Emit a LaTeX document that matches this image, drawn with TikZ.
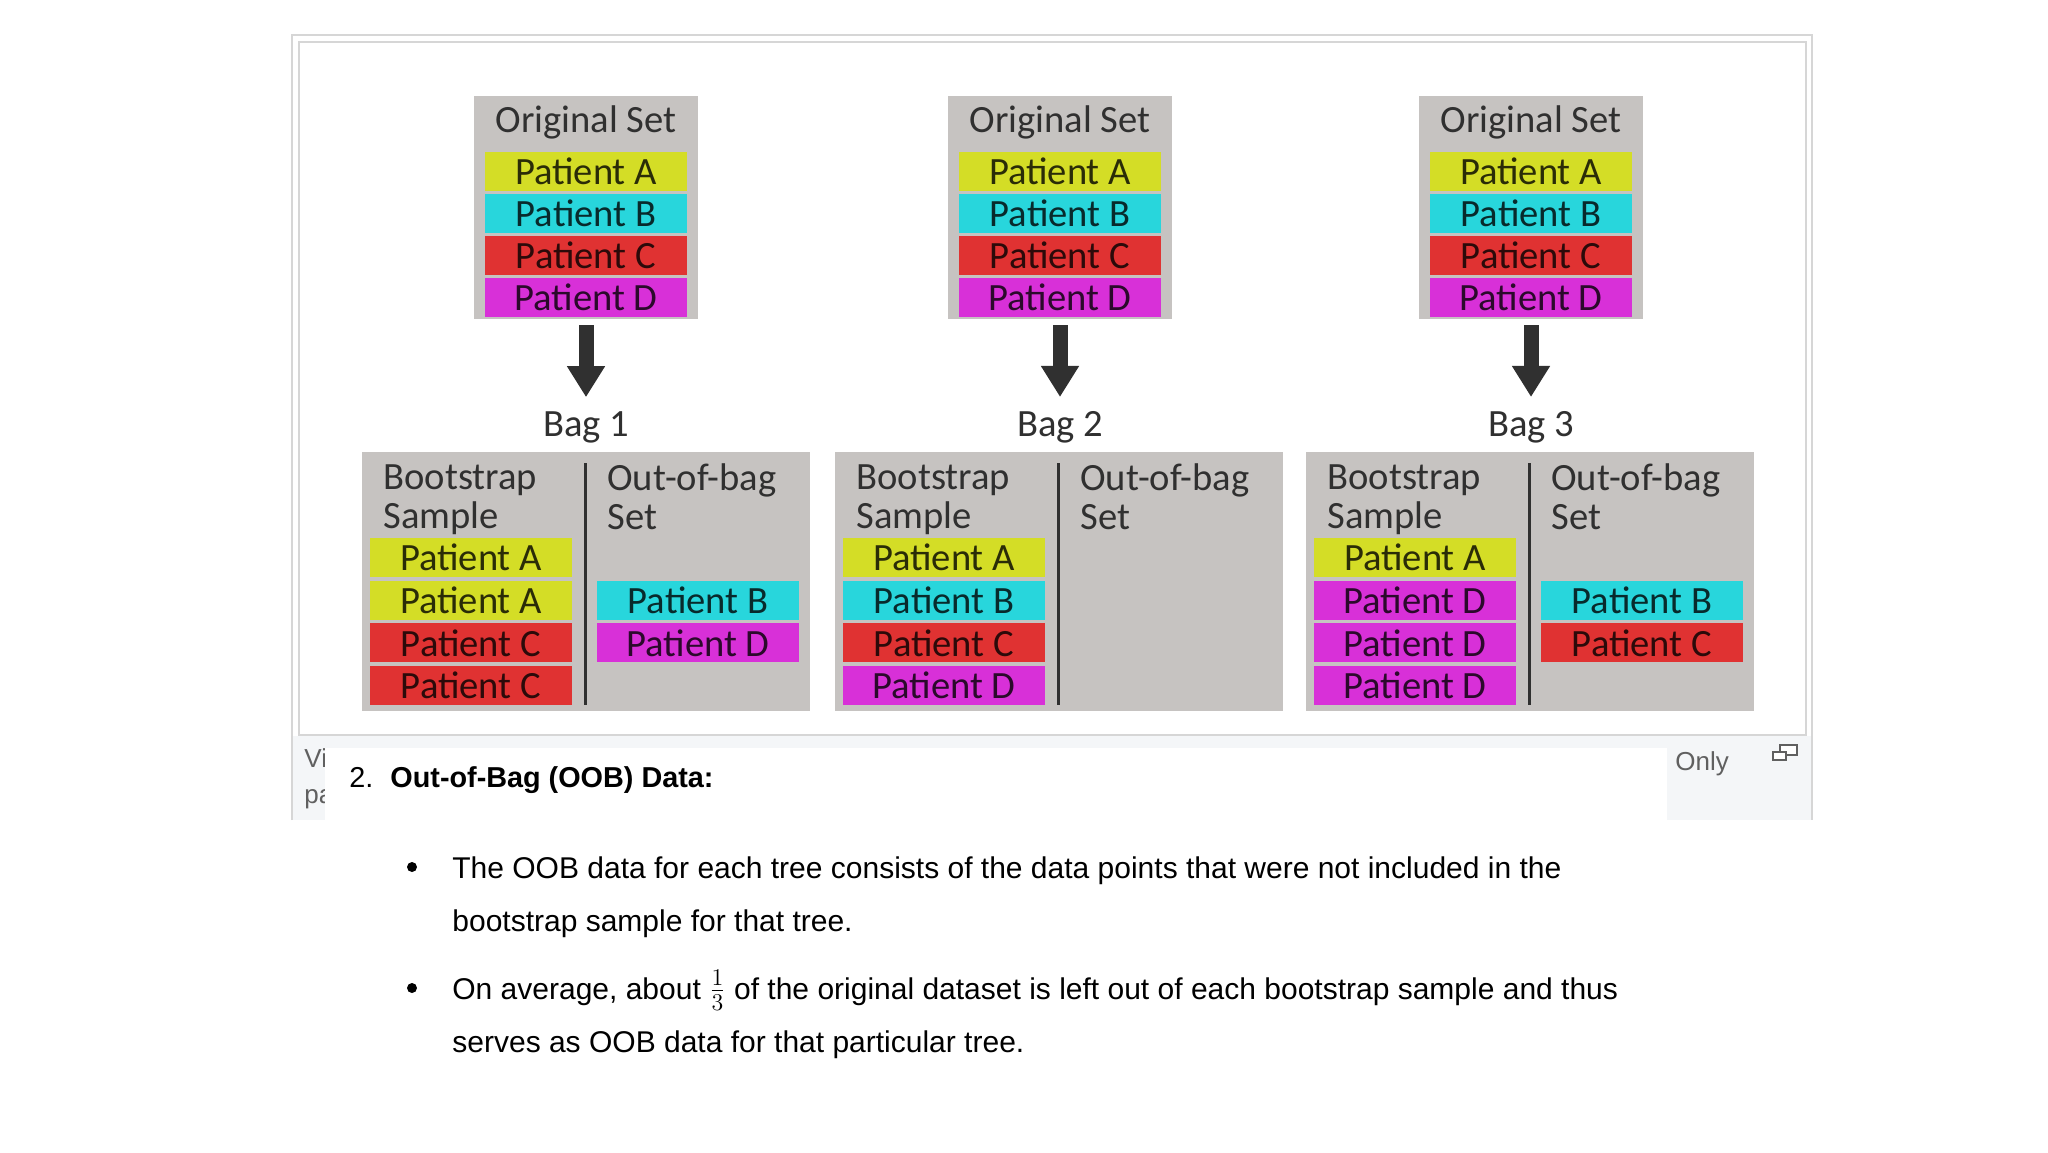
\documentclass[tikz,border=0pt]{standalone}
\usepackage{fontspec}
\setmainfont{Carlito}
\newfontfamily\chatfont{Liberation Sans}
\usetikzlibrary{arrows.meta,positioning}
\definecolor{patA}{RGB}{212,221,38}
\definecolor{patB}{RGB}{40,214,220}
\definecolor{patC}{RGB}{224,50,50}
\definecolor{patD}{RGB}{216,48,216}
\definecolor{boxgray}{RGB}{198,195,193}
\definecolor{inkgray}{RGB}{48,48,48}
\definecolor{capbg}{RGB}{244,246,248}
\definecolor{framegray}{RGB}{214,214,214}
\definecolor{capink}{RGB}{96,96,96}
\newcommand{\diagfont}{\fontsize{19.3}{19.5}\selectfont}
\newcommand{\chatbody}{\chatfont\fontsize{15}{17}\selectfont}
\tikzset{
  setbox/.style={fill=boxgray,minimum width=112pt,minimum height=111.5pt,inner sep=0pt},
  bagbox/.style={fill=boxgray,minimum width=224pt,minimum height=129.5pt,inner sep=0pt},
  patbar/.style={minimum width=101pt,minimum height=19.5pt,inner sep=0pt,text=black,text opacity=0.8},
  coltitle/.style={anchor=north west,align=left,inner sep=0pt,text=inkgray},
  baglabel/.style={anchor=base,inner sep=0pt,text=inkgray},
  bigarrow/.style={draw=inkgray,line width=7.5pt,-{Triangle[width=18pt,length=15.5pt]},shorten <=3pt,shorten >=6.8pt},
  divider/.style={draw=inkgray,line width=1.5pt},
  bodyline/.style={anchor=base west,inner sep=0pt,font=\chatbody,text=black},
  capline/.style={anchor=base west,inner sep=0pt,font=\chatfont\fontsize{13}{15}\selectfont,text=capink}
}
% original set with its arrow and label
\newcommand{\origset}[2]{\begin{scope}[shift={(#1,0)}]
  \node[setbox] (orig#2) at (0,207.5) {};
  \node[inner sep=0pt,text=inkgray] (title#2) at (0,122) {Original Set};
  \foreach \p/\col [count=\i from 0] in {A/patA,B/patB,C/patC,D/patD}
    \node[patbar,fill=\col] (o#2\p) at (0,{171+42*\i}) {Patient \p};
  \node[baglabel] (lab#2) at (0,436) {Bag #2};
  \draw[bigarrow] (orig#2) -- (lab#2);
\end{scope}}
% one bag: bootstrap sample and out-of-bag set
\newcommand{\bag}[4]{\begin{scope}[shift={(#1,0)}]
  \node[bagbox] (bag#2) at (0,581.5) {};
  \draw[divider] (-1,463) -- (-1,705);
  \node[coltitle] (bs#2) at (-203,464) {Bootstrap\\Sample};
  \node[coltitle] (oob#2) at (21,463) {Out-of-bag\\Set};
  \foreach \p/\col [count=\i from 0] in {#3}
    \node[patbar,fill=\col] (b#2\i) at (-115,{557.5+42.7*\i}) {Patient \p};
  \foreach \p/\col [count=\i from 1] in {#4}
    \node[patbar,fill=\col] (r#2\i) at (112,{557.5+42.7*\i}) {Patient \p};
\end{scope}}

\begin{document}
\begin{tikzpicture}[x=0.5pt,y=-0.5pt,font=\diagfont]
\useasboundingbox (0,0) rectangle (2048,1152);
% card
\fill[capbg] (292,736) rectangle (1812,820);
\node[capline] (vi) at (304,767) {Vi};
\node[capline] (pa) at (304,803) {pa};
\fill[white] (325,748) rectangle (1667,822);
\draw[framegray,line width=1pt] (292,820) -- (292,35) -- (1812,35) -- (1812,820);
\draw[framegray,line width=1pt,fill=white] (299,42) rectangle (1806,735);
\node[capline] (only) at (1675,770) {Only};
\draw[capink,line width=1pt,fill=white] (1780,745) rectangle (1797,755);
\draw[capink,line width=1pt,fill=white] (1773,752) rectangle (1786,760);
% bag 1
\origset{586}{1}
\bag{586}{1}{A/patA,A/patA,C/patC,C/patC}{B/patB,D/patD}
% bag 2
\origset{1060}{2}
\bag{1059}{2}{A/patA,B/patB,C/patC,D/patD}{}
% bag 3
\origset{1531}{3}
\bag{1530}{3}{A/patA,D/patD,D/patD,D/patD}{B/patB,C/patC}
% answer text
\node[bodyline,font=\chatfont\fontsize{14.4}{17}\selectfont] (num) at (349,787) {2.};
\node[bodyline,font=\chatfont\fontsize{14.4}{17}\selectfont\bfseries] (head) at (390,787) {Out-of-Bag (OOB) Data:};
\fill (412,867) circle (2.5pt);
\node[bodyline] (l1) at (452,878) {The OOB data for each tree consists of the data points that were not included in the};
\node[bodyline] (l2) at (452,931) {bootstrap sample for that tree.};
\fill (412,988) circle (2.5pt);
\node[bodyline] (l3) at (452,999) {On average, about \mbox{\fontsize{18}{18}\selectfont$\frac{1}{3}$} of the original dataset is left out of each bootstrap sample and thus};
\node[bodyline] (l4) at (452,1052) {serves as OOB data for that particular tree.};
\end{tikzpicture}
\end{document}
